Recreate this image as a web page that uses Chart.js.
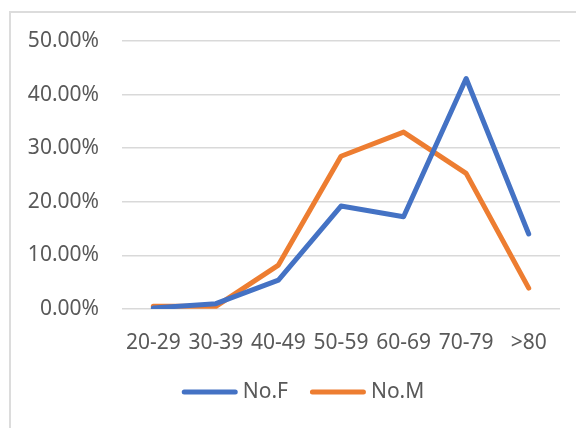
<!DOCTYPE html>
<html>
<head>
<meta charset="utf-8">
<script src="https://cdn.jsdelivr.net/npm/chart.js@4"></script>
<style>
  html, body { margin: 0; padding: 0; background: #ffffff; }
  body { width: 576px; height: 428px; position: relative; overflow: hidden; }
  #frame {
    position: absolute; left: 9px; top: 11px; width: 700px; height: 600px;
    border: 2px solid #dcdcdc; box-sizing: border-box;
  }
  #wrap { position: absolute; left: 0; top: 0; width: 576px; height: 428px; }
</style>
</head>
<body>
<div id="frame"></div>
<div id="wrap"><canvas id="chart" width="576" height="428"></canvas></div>
<script>
// Age groups and share of each group (percent)
const ageGroups = ['20-29', '30-39', '40-49', '50-59', '60-69', '70-79', '>80'];
const femaleShare = [0.2, 1.0, 5.4, 19.2, 17.2, 43.0, 14.0];
const maleShare = [0.5, 0.5, 8.2, 28.5, 33.0, 25.3, 3.9];
const seriesNames = ['No.F', 'No.M'];
const seriesColors = ['#4472C4', '#ED7D31'];

const FONT = { family: "'Noto Sans', sans-serif", size: 21 };
const TEXT = '#595959';

// Legend drawn below the plot: line sample followed by the series name
const lineLegend = {
  id: 'lineLegend',
  afterDraw(chart) {
    const ctx = chart.ctx;
    const sample = 56, gap = 5, itemGap = 22, y = 392;
    ctx.save();
    ctx.font = FONT.size + 'px ' + FONT.family;
    const items = chart.data.datasets.map(ds => ({
      label: ds.label, color: ds.borderColor, w: ctx.measureText(ds.label).width
    }));
    let total = 0;
    items.forEach((it, i) => { total += sample + gap + it.w + (i ? itemGap : 0); });
    let x = 303 - total / 2;
    items.forEach((it, i) => {
      if (i) x += itemGap;
      ctx.strokeStyle = it.color;
      ctx.lineWidth = 5;
      ctx.lineCap = 'round';
      ctx.beginPath();
      ctx.moveTo(x + 2.5, y);
      ctx.lineTo(x + sample - 2.5, y);
      ctx.stroke();
      x += sample + gap;
      ctx.fillStyle = TEXT;
      ctx.textBaseline = 'middle';
      ctx.textAlign = 'left';
      ctx.fillText(it.label, x, y);
      x += it.w;
    });
    ctx.restore();
  }
};

new Chart(document.getElementById('chart'), {
  type: 'line',
  data: {
    labels: ageGroups,
    datasets: [
      { label: seriesNames[0], data: femaleShare, borderColor: seriesColors[0] },
      { label: seriesNames[1], data: maleShare, borderColor: seriesColors[1] }
    ].map(ds => Object.assign(ds, {
      borderWidth: 5, tension: 0, pointRadius: 0, pointHoverRadius: 0,
      borderCapStyle: 'round', borderJoinStyle: 'round', fill: false
    }))
  },
  options: {
    responsive: false,
    animation: false,
    devicePixelRatio: 1,
    layout: { padding: { top: 41, right: 16, bottom: 0, left: 0 } },
    plugins: { legend: { display: false }, tooltip: { enabled: false } },
    scales: {
      x: {
        offset: true,
        grid: { display: false },
        border: { display: false },
        ticks: { font: FONT, color: TEXT, padding: 13, maxRotation: 0, autoSkip: false },
        afterFit(scale) { scale.height = 119; }
      },
      y: {
        min: 0, max: 50,
        grid: { color: '#d9d9d9', lineWidth: 1.5, drawTicks: false },
        border: { display: false },
        ticks: {
          stepSize: 10, font: FONT, color: TEXT, padding: 23,
          callback: v => v.toFixed(2) + '%'
        },
        afterFit(scale) { scale.width = 122; }
      }
    }
  },
  plugins: [lineLegend]
});
</script>
</body>
</html>
